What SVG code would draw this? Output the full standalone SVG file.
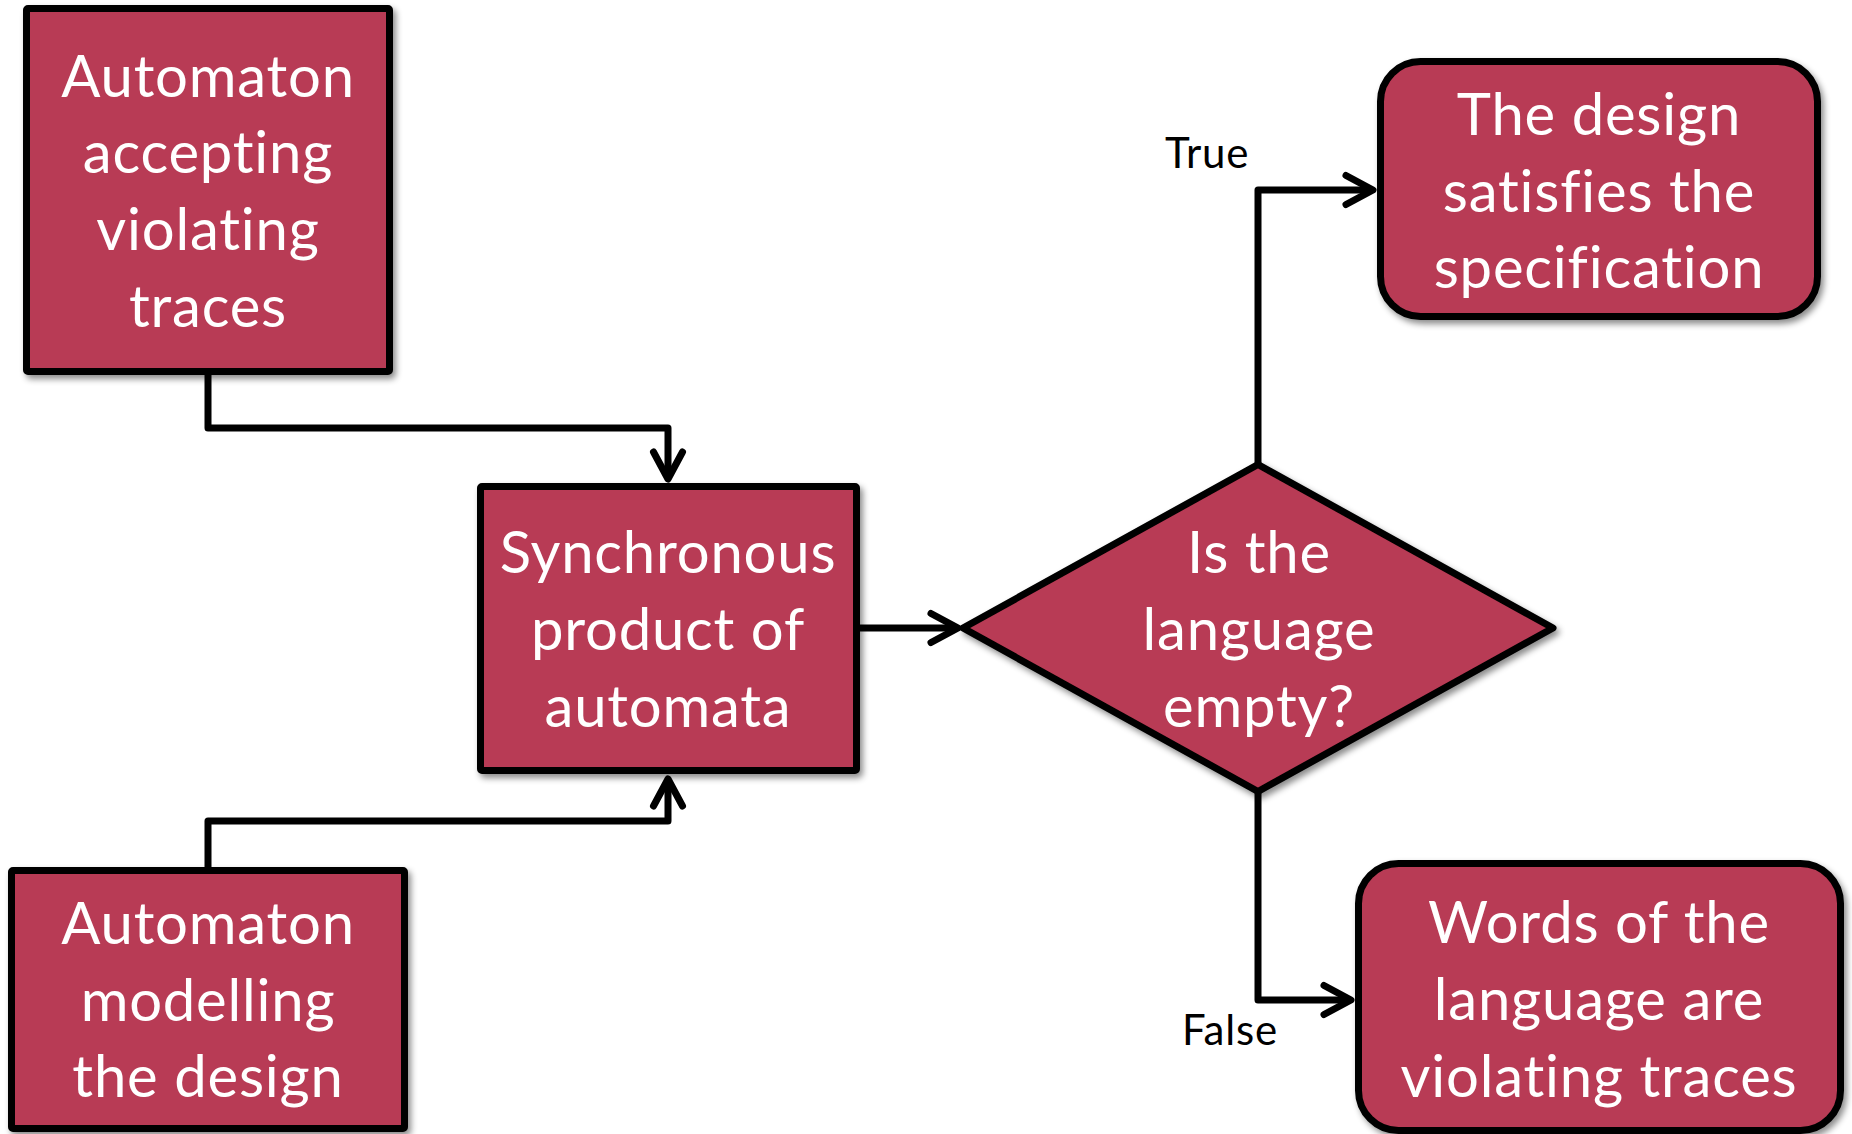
<svg xmlns="http://www.w3.org/2000/svg" width="1852" height="1134" viewBox="0 0 1852 1134">
  <defs>
    <filter id="shadow" x="-10%" y="-10%" width="125%" height="125%">
      <feDropShadow dx="3" dy="4" stdDeviation="3" flood-color="#000" flood-opacity="0.45"/>
    </filter>
    <marker id="arrow" markerUnits="userSpaceOnUse" markerWidth="40" markerHeight="40" viewBox="-34 -20 40 40" refX="0" refY="0" orient="auto" overflow="visible">
      <path d="M-27,-14.5 L0,0 L-27,14.5" fill="none" stroke="#000" stroke-width="7" stroke-linecap="round" stroke-linejoin="round"/>
    </marker>
    <style>
      .node { fill: #B83A54; stroke: #000; stroke-width: 7; stroke-linejoin: round; filter: url(#shadow); }
      .label { font-family: Lato, "Open Sans", "Liberation Sans", sans-serif; font-size: 58px; letter-spacing: 0.8px; font-variant-ligatures: none; fill: #fff; text-anchor: middle; }
      .branch { font-family: Lato, "Open Sans", "Liberation Sans", sans-serif; font-size: 42px; letter-spacing: 0.8px; fill: #000; }
      .conn { fill: none; stroke: #000; stroke-width: 7; stroke-linejoin: round; }
    </style>
  </defs>

  <rect width="1852" height="1134" fill="#fff"/>

  <!-- connectors -->
  <g id="connectors">
    <path class="conn" d="M208 375 V428 H668 V479" marker-end="url(#arrow)"/>
    <path class="conn" d="M208 867 V821 H668 V779" marker-end="url(#arrow)"/>
    <path class="conn" d="M860 628 H958" marker-end="url(#arrow)"/>
    <path class="conn" d="M1258 466 V190 H1373" marker-end="url(#arrow)"/>
    <path class="conn" d="M1258 790 V1000 H1351" marker-end="url(#arrow)"/>
    <text class="branch" x="1165" y="168">True</text>
    <text class="branch" x="1182" y="1045">False</text>
  </g>

  <!-- automaton for the violating traces -->
  <g id="node-violating">
    <rect class="node" x="26.5" y="8.5" width="363" height="363" rx="1.5"/>
    <text class="label" x="208" y="97">Automaton</text>
    <text class="label" x="208" y="173">accepting</text>
    <text class="label" x="208" y="250">violating</text>
    <text class="label" x="208" y="327">traces</text>
  </g>

  <!-- automaton for the design -->
  <g id="node-design">
    <rect class="node" x="11.5" y="870.5" width="393" height="258" rx="1.5"/>
    <text class="label" x="208" y="944">Automaton</text>
    <text class="label" x="208" y="1021">modelling</text>
    <text class="label" x="208" y="1097">the design</text>
  </g>

  <!-- synchronous product -->
  <g id="node-product">
    <rect class="node" x="480.5" y="486.5" width="376" height="284" rx="1.5"/>
    <text class="label" x="668" y="573">Synchronous</text>
    <text class="label" x="668" y="650">product of</text>
    <text class="label" x="668" y="727">automata</text>
  </g>

  <!-- emptiness check -->
  <g id="node-decision">
    <polygon class="node" points="963,628 1258,464.5 1553,628 1258,791.5"/>
    <text class="label" x="1259" y="573">Is the</text>
    <text class="label" x="1259" y="650">language</text>
    <text class="label" x="1259" y="727">empty?</text>
  </g>

  <!-- outcome: empty language -->
  <g id="node-satisfied">
    <rect class="node" x="1380.5" y="61.5" width="437" height="255" rx="40"/>
    <text class="label" x="1599" y="135">The design</text>
    <text class="label" x="1599" y="212">satisfies the</text>
    <text class="label" x="1599" y="288">specification</text>
  </g>

  <!-- outcome: non-empty language -->
  <g id="node-counterexamples">
    <rect class="node" x="1358.5" y="863.5" width="482" height="267" rx="40"/>
    <text class="label" x="1599" y="943">Words of the</text>
    <text class="label" x="1599" y="1020">language are</text>
    <text class="label" x="1599" y="1097">violating traces</text>
  </g>
</svg>
